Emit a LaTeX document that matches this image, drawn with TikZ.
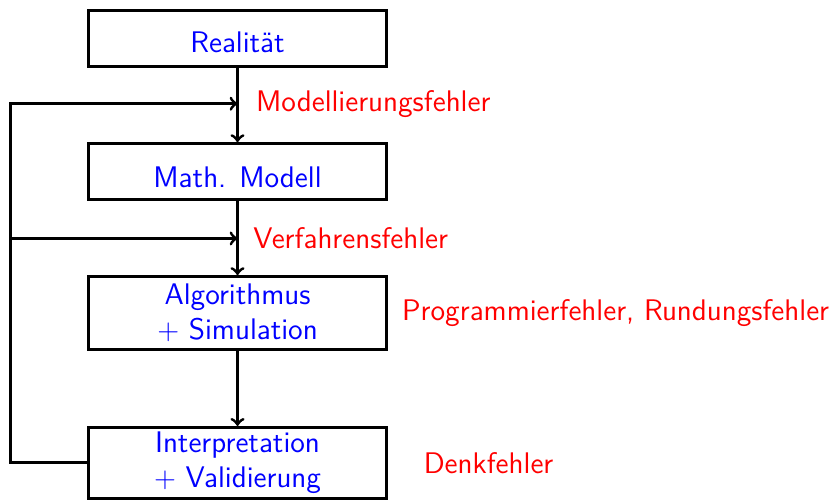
\documentclass[tikz,border=0pt]{standalone}
\usetikzlibrary{positioning}

\begin{document}
\begin{tikzpicture}[
  font=\sffamily\fontsize{14.9}{17.4}\selectfont, line width=1.5pt,
  stage/.style={draw, text=blue, align=center, minimum width=5.24cm, inner sep=2pt},
  fehler/.style={text=red, inner sep=0pt}]
  \useasboundingbox (0,0) rectangle (14.638,8.804);

  % stages of the modelling chain
  \node[stage, minimum height=1.00cm, text height=13.8pt] (real) at (4.174,8.128) {Realität};
  \node[stage, minimum height=0.98cm, text height=16.3pt] (model) at (4.174,5.790) {Math. Modell};
  \node[stage, minimum height=1.28cm] (algo) at (4.174,3.304) {Algorithmus\\ $+$ Simulation};
  \node[stage, minimum height=1.25cm] (interp) at (4.174,0.668) {Interpretation\\ $+$ Validierung};

  \draw[->] (real) -- (model);
  \draw[->] (model) -- (algo);
  \draw[->] (algo) -- (interp);

  % feedback rail on the left
  \coordinate (rail) at (0.185,0);
  \coordinate[below=0.62cm of real.south] (j1);
  \coordinate[below=0.66cm of model.south] (j2);
  \draw[->] (interp.west) -- (interp.west -| rail) |- (j1);
  \draw[->] (rail |- j2) -- (j2);

  % error sources
  \node[fehler, right=0.30cm of j1] (modf) {Modellierungsfehler};
  \node[fehler, right=0.25cm of j2] (verf) {Verfahrensfehler};
  \node[fehler, right=0.22cm of algo] (progf) {Programmierfehler, Rundungsfehler};
  \node[fehler, right=0.60cm of interp] (denkf) {Denkfehler};
\end{tikzpicture}
\end{document}
